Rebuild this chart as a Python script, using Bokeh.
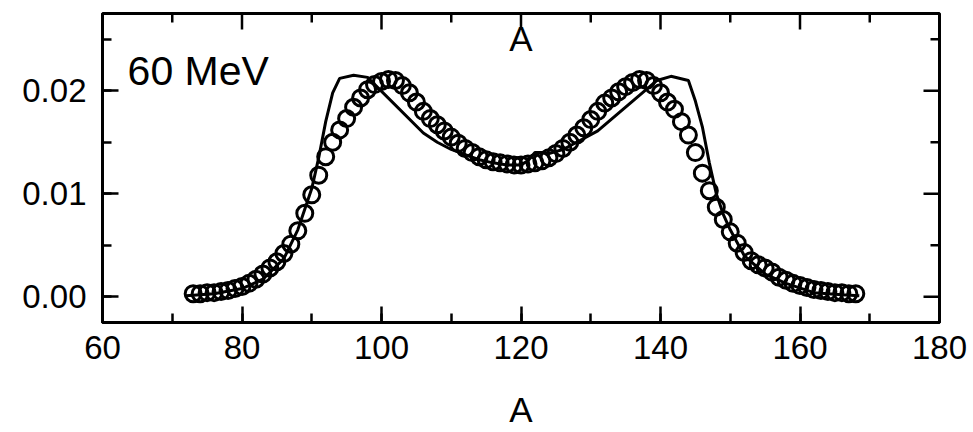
from bokeh.plotting import figure
from bokeh.models import (SingleIntervalTicker, NumeralTickFormatter, Label, Range1d)
from bokeh.embed import file_html
from bokeh.resources import INLINE

# ---- data ----
exp_A = list(range(73, 169))
exp_Y = [0.0003, 0.0003, 0.0004, 0.0004, 0.0005, 0.0006, 0.0008, 0.0010, 0.0013, 0.0017,
         0.0022, 0.0028, 0.0034, 0.0042, 0.0051, 0.0064, 0.0081, 0.0099, 0.0118, 0.0136,
         0.0150, 0.0162, 0.0173, 0.0184, 0.0193, 0.0201, 0.0206, 0.0209, 0.0211, 0.0210,
         0.0205, 0.0198, 0.0189, 0.0180, 0.0173, 0.0167, 0.0161, 0.0155, 0.0149, 0.0144,
         0.0140, 0.0136, 0.0133, 0.0131, 0.0130, 0.0129, 0.0128, 0.0128, 0.0129, 0.0130,
         0.0132, 0.0135, 0.0139, 0.0144, 0.0150, 0.0157, 0.0164, 0.0172, 0.0180, 0.0188,
         0.0193, 0.0199, 0.0204, 0.0208, 0.0211, 0.0210, 0.0205, 0.0198, 0.0189, 0.0182,
         0.0170, 0.0157, 0.0140, 0.0120, 0.0103, 0.0087, 0.0075, 0.0063, 0.0052, 0.0043,
         0.0035, 0.0031, 0.0028, 0.0024, 0.0019, 0.0016, 0.0013, 0.0011, 0.0009, 0.0007,
         0.0006, 0.0005, 0.0004, 0.0004, 0.0003, 0.0003]

calc_A = [72, 76, 80, 83, 86, 88, 89, 90, 91, 92, 93, 94, 96, 98, 106, 108, 110, 112,
          114, 116, 118, 120, 121, 122, 123, 124, 126, 128, 131, 139.5, 141.5, 144, 145,
          146, 147, 148, 149, 150, 152, 155, 158, 162, 166, 168.5]
calc_Y = [0.0001, 0.0003, 0.0008, 0.0017, 0.0037, 0.0065, 0.0085, 0.0105, 0.0135, 0.0170,
          0.0198, 0.0212, 0.0215, 0.0213, 0.0159, 0.0150, 0.0143, 0.0138, 0.0133, 0.0130,
          0.0128, 0.0128, 0.0132, 0.0140, 0.0140, 0.0139, 0.0143, 0.0150, 0.0161, 0.0210,
          0.0214, 0.0210, 0.0190, 0.0165, 0.0130, 0.0100, 0.0080, 0.0065, 0.0040, 0.0022,
          0.0013, 0.0004, 0.0002, 0.0001]

x_major = [60, 80, 100, 120, 140, 160, 180]
x_minor = [70, 90, 110, 130, 150, 170]
y_major = [0.00, 0.01, 0.02]
y_minor = [0.005, 0.015, 0.025]
x_title = "A"
top_text = "A"
energy_text = "60 MeV"

FONT = "Liberation Sans"
X0, X1, Y0, Y1 = 60, 180, -0.0025, 0.0275
FW, FH = 837, 309

p = figure(frame_width=FW, frame_height=FH, output_backend="svg", toolbar_location=None,
           x_range=Range1d(X0, X1), y_range=Range1d(Y0, Y1),
           min_border_left=102, min_border_top=13, min_border_right=28, min_border_bottom=0)
p.grid.visible = False
p.outline_line_color = "black"
p.outline_line_width = 3
p.background_fill_alpha = 0

def style(ax, ticker):
    ax.ticker = ticker
    ax.axis_line_width = 3
    ax.axis_line_color = "black"
    ax.major_tick_in = 16
    ax.major_tick_out = 0
    ax.minor_tick_in = 9
    ax.minor_tick_out = 0
    ax.major_tick_line_width = 2.5
    ax.minor_tick_line_width = 2.5
    ax.major_tick_line_color = "black"
    ax.minor_tick_line_color = "black"
    ax.major_label_text_font = FONT
    ax.major_label_text_font_size = "33px"
    ax.major_label_text_color = "black"

style(p.xaxis[0], SingleIntervalTicker(interval=20, num_minor_ticks=2))
p.xaxis[0].major_label_standoff = 13
p.xaxis[0].axis_label = x_title
p.xaxis[0].axis_label_text_font = FONT
p.xaxis[0].axis_label_text_font_size = "35px"
p.xaxis[0].axis_label_text_font_style = "normal"
p.xaxis[0].axis_label_text_color = "black"
p.xaxis[0].axis_label_standoff = 28

style(p.yaxis[0], SingleIntervalTicker(interval=0.01, num_minor_ticks=2))
p.yaxis[0].major_label_standoff = 16
p.yaxis[0].formatter = NumeralTickFormatter(format="0.00")

# mirrored inward ticks on the top and right edges, built from the tick lists
dx_major = 16 * (X1 - X0) / FW
dx_minor = 9 * (X1 - X0) / FW
dy_major = 16 * (Y1 - Y0) / FH
dy_minor = 9 * (Y1 - Y0) / FH
p.segment(x0=x_major, x1=x_major, y0=[Y1] * len(x_major), y1=[Y1 - dy_major] * len(x_major),
          line_color="black", line_width=2.5)
p.segment(x0=x_minor, x1=x_minor, y0=[Y1] * len(x_minor), y1=[Y1 - dy_minor] * len(x_minor),
          line_color="black", line_width=2.5)
p.segment(x0=[X1] * len(y_major), x1=[X1 - dx_major] * len(y_major), y0=y_major, y1=y_major,
          line_color="black", line_width=2.5)
p.segment(x0=[X1] * len(y_minor), x1=[X1 - dx_minor] * len(y_minor), y0=y_minor, y1=y_minor,
          line_color="black", line_width=2.5)

p.line(calc_A, calc_Y, line_color="black", line_width=3)
p.scatter(exp_A, exp_Y, marker="circle", size=16, fill_color=None,
          line_color="black", line_width=3)

p.add_layout(Label(x=63.6, y=0.0197, text=energy_text, text_font=FONT,
                   text_font_size="41px", text_color="black"))
p.add_layout(Label(x=120, y=0.0232, text=top_text, text_font=FONT, text_align="center",
                   text_font_size="35px", text_color="black"))

open("out.html", "w").write(file_html(p, INLINE))
